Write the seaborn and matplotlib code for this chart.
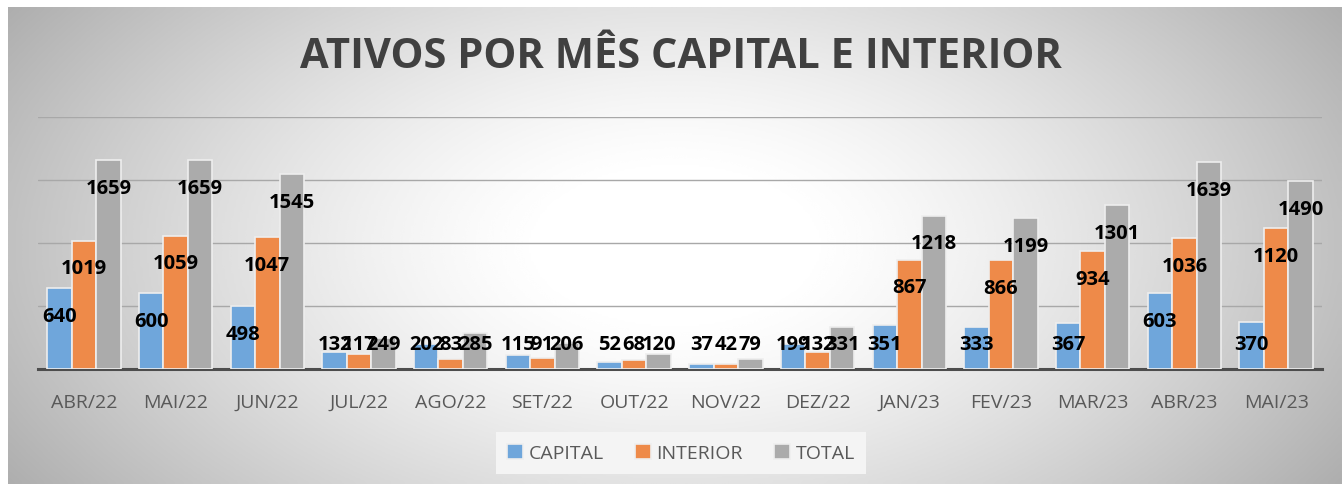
import numpy as np
import pandas as pd
import matplotlib
matplotlib.use("Agg")
import matplotlib.pyplot as plt
import seaborn as sns

# values
meses = ["ABR/22", "MAI/22", "JUN/22", "JUL/22", "AGO/22", "SET/22", "OUT/22",
         "NOV/22", "DEZ/22", "JAN/23", "FEV/23", "MAR/23", "ABR/23", "MAI/23"]
capital = [640, 600, 498, 132, 202, 115, 52, 37, 199, 351, 333, 367, 603, 370]
interior = [1019, 1059, 1047, 117, 83, 91, 68, 42, 132, 867, 866, 934, 1036, 1120]
total = [1659, 1659, 1545, 249, 285, 206, 120, 79, 331, 1218, 1199, 1301, 1639, 1490]
series = ["CAPITAL", "INTERIOR", "TOTAL"]
colors = ["#6FA6DB", "#EE8A49", "#ABABAB"]

df = pd.DataFrame({"mes": meses, "CAPITAL": capital, "INTERIOR": interior, "TOTAL": total})
long_df = df.melt(id_vars="mes", value_vars=series, var_name="serie", value_name="valor")

sns.set_theme(style="white")
plt.rcParams["font.family"] = ["Open Sans", "DejaVu Sans"]

W, H = 1342, 485
fig = plt.figure(figsize=(W / 100, H / 100), dpi=100)

# gray radial-ish background of the chart area
bg = fig.add_axes([8 / W, 0, 1 - 8 / W, 1 - 8 / H], zorder=-10)
gx, gy = np.meshgrid(np.linspace(-1, 1, 600), np.linspace(-1, 1, 240))
d = np.sqrt((gx / 0.95) ** 2 + (gy / 1.5) ** 2)
shade = np.clip(1 - 0.3 * np.clip(d - 0.2, 0, None) ** 1.3, 0, 1)
bg.imshow(shade, cmap="gray", vmin=0, vmax=1, aspect="auto", interpolation="bicubic")
bg.set_axis_off()

ax = fig.add_axes([38 / W, 1 - 370 / H, (1322 - 38) / W, (370 - 118) / H])
ax.patch.set_alpha(0)

sns.barplot(data=long_df, x="mes", y="valor", hue="serie", hue_order=series,
            palette=colors, saturation=1, width=0.8, edgecolor="#EEEEEE",
            linewidth=1.2, ax=ax, legend=True, zorder=3)

ax.set_ylim(0, 2000)
ax.set_xlim(-0.5, len(meses) - 0.5)
ax.set_yticks([500, 1000, 1500, 2000])
ax.yaxis.grid(True, color="#A8A8A8", linewidth=1)
ax.set_axisbelow(True)
ax.tick_params(axis="y", left=False, labelleft=False)
ax.set_xlabel("")
ax.set_ylabel("")
for side in ["top", "right", "left"]:
    ax.spines[side].set_visible(False)
ax.spines["bottom"].set_color("#4D4D4D")
ax.spines["bottom"].set_linewidth(2.2)

ax.set_xticks(np.arange(-0.5, len(meses), 1.0), minor=True)
ax.tick_params(axis="x", which="minor", length=6, width=2, color="#4D4D4D", direction="out")
ax.tick_params(axis="x", which="major", length=0, pad=17, labelsize=14, labelcolor="#595959")

# data labels, placed like the reference (a bit below the bar top, never too low)
for cont, vals in zip(ax.containers, [capital, interior, total]):
    for p, v in zip(cont.patches, vals):
        ax.text(p.get_x() + p.get_width() / 2, max(v - 220, 200), str(v),
                ha="center", va="center", fontsize=14.5, fontweight="bold",
                color="black", zorder=5)

leg = ax.get_legend()
handles, labels = ax.get_legend_handles_labels()
leg.remove()
fig.legend(handles, labels, loc="center", bbox_to_anchor=(681 / W, 1 - 454 / H),
           ncol=3, frameon=True, fontsize=14, handlelength=0.8, handleheight=0.8,
           handletextpad=0.3, columnspacing=1.6, borderpad=0.6,
           facecolor="#F4F4F4", edgecolor="none", framealpha=1, fancybox=False,
           labelcolor="#595959")

fig.text(681 / W, 1 - 58 / H, "ATIVOS POR MÊS CAPITAL E INTERIOR", ha="center",
         va="center", fontsize=30, fontweight="bold", color="#404040")

fig.savefig("out.png", dpi=100, facecolor="white")
